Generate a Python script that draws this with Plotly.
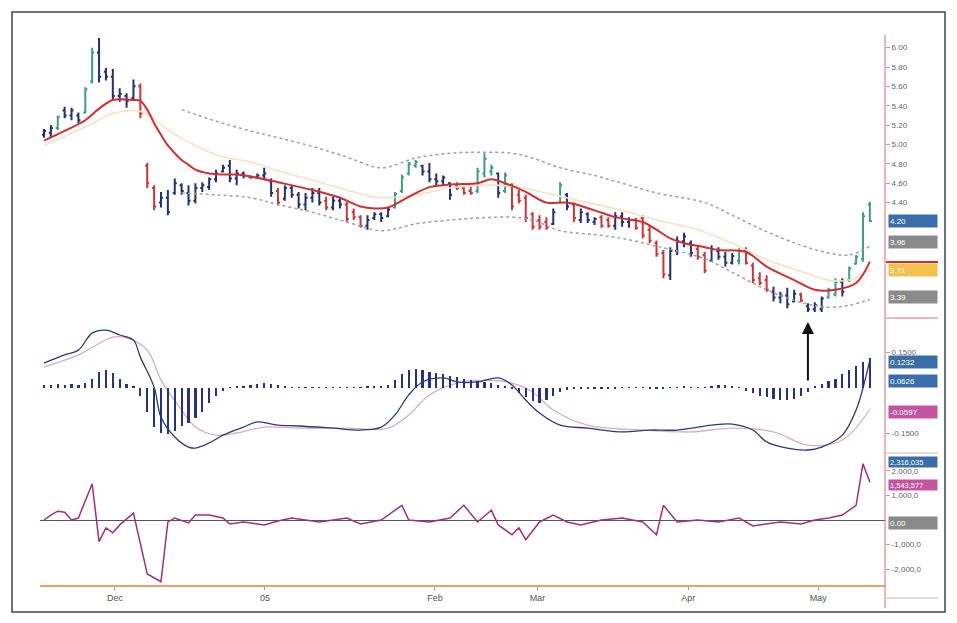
import plotly.graph_objects as go

# page body has an 8px margin, so the figure is placed at (8, 8)
OFF = 8
W, H = 957 - 2 * OFF, 623 - 2 * OFF
def px(x): return (x - OFF) / W
def py(y): return 1 - (y - OFF) / H

# ---------------- price bars (Elder impulse colouring) ----------------
high = [5.16,5.20,5.30,5.39,5.38,5.33,5.59,6.00,6.10,5.79,
        5.78,5.58,5.53,5.67,5.63,4.81,4.58,4.51,4.53,4.65,
        4.60,4.58,4.60,4.61,4.66,4.74,4.79,4.84,4.74,4.72,
        4.68,4.70,4.76,4.65,4.55,4.58,4.58,4.51,4.50,4.55,
        4.55,4.46,4.46,4.46,4.41,4.34,4.27,4.27,4.30,4.30,
        4.35,4.51,4.69,4.82,4.84,4.79,4.81,4.70,4.68,4.61,
        4.61,4.56,4.56,4.76,4.91,4.79,4.71,4.71,4.60,4.53,
        4.48,4.30,4.27,4.25,4.34,4.61,4.50,4.40,4.34,4.30,
        4.25,4.27,4.25,4.30,4.30,4.25,4.24,4.27,4.17,4.01,
        3.91,3.94,4.05,4.09,4.01,3.96,3.89,3.96,3.94,3.89,
        3.88,3.93,3.94,3.78,3.68,3.65,3.53,3.48,3.52,3.50,
        3.47,3.36,3.37,3.43,3.52,3.62,3.62,3.74,3.86,4.30,
        4.41]
low = [5.07,5.07,5.15,5.27,5.25,5.22,5.32,5.63,5.64,5.66,
       5.46,5.44,5.38,5.46,5.27,4.55,4.32,4.35,4.27,4.48,
       4.48,4.37,4.39,4.51,4.53,4.61,4.71,4.61,4.58,4.65,
       4.65,4.65,4.63,4.46,4.37,4.42,4.45,4.34,4.32,4.40,
       4.37,4.32,4.32,4.34,4.20,4.22,4.14,4.12,4.22,4.20,
       4.25,4.34,4.50,4.68,4.76,4.68,4.61,4.58,4.58,4.43,
       4.53,4.48,4.48,4.50,4.66,4.68,4.45,4.50,4.32,4.39,
       4.20,4.12,4.12,4.12,4.17,4.39,4.32,4.20,4.19,4.19,
       4.17,4.14,4.14,4.12,4.15,4.14,4.12,4.03,3.98,3.84,
       3.62,3.60,3.86,3.94,3.84,3.81,3.67,3.79,3.81,3.74,
       3.76,3.76,3.76,3.57,3.55,3.48,3.38,3.36,3.31,3.37,
       3.37,3.27,3.27,3.27,3.41,3.43,3.43,3.58,3.76,3.79,
       4.20]
opn = [5.10,5.12,5.17,5.35,5.30,5.30,5.33,5.65,5.95,5.75,
       5.70,5.50,5.50,5.48,5.60,4.78,4.55,4.40,4.45,4.50,
       4.58,4.50,4.42,4.55,4.56,4.64,4.72,4.78,4.65,4.70,
       4.67,4.66,4.68,4.62,4.52,4.44,4.55,4.48,4.38,4.45,
       4.50,4.42,4.35,4.42,4.38,4.30,4.25,4.16,4.24,4.28,
       4.26,4.35,4.52,4.70,4.78,4.78,4.72,4.64,4.62,4.60,
       4.58,4.55,4.52,4.52,4.70,4.72,4.70,4.52,4.58,4.48,
       4.45,4.28,4.22,4.20,4.18,4.40,4.48,4.38,4.22,4.28,
       4.20,4.25,4.22,4.16,4.26,4.20,4.22,4.24,4.12,3.98,
       3.88,3.65,3.90,4.00,3.98,3.92,3.86,3.80,3.90,3.84,
       3.78,3.80,3.90,3.75,3.62,3.60,3.48,3.42,3.44,3.38,
       3.45,3.33,3.30,3.30,3.42,3.45,3.58,3.60,3.77,3.82,
       4.38]
close = [5.14,5.17,5.28,5.30,5.35,5.25,5.57,5.95,5.70,5.70,
         5.50,5.52,5.45,5.60,5.32,4.60,4.36,4.45,4.30,4.60,
         4.52,4.42,4.55,4.58,4.64,4.70,4.76,4.65,4.70,4.68,
         4.66,4.68,4.70,4.50,4.40,4.55,4.48,4.38,4.45,4.50,
         4.40,4.35,4.42,4.38,4.23,4.25,4.16,4.22,4.28,4.24,
         4.33,4.49,4.66,4.80,4.82,4.72,4.64,4.62,4.66,4.48,
         4.55,4.50,4.50,4.72,4.85,4.76,4.50,4.68,4.36,4.42,
         4.24,4.15,4.15,4.14,4.30,4.58,4.36,4.24,4.30,4.22,
         4.23,4.16,4.16,4.26,4.20,4.22,4.14,4.06,4.01,3.87,
         3.66,3.90,4.00,4.05,3.88,3.84,3.70,3.92,3.84,3.78,
         3.85,3.90,3.78,3.60,3.57,3.50,3.42,3.44,3.35,3.46,
         3.39,3.30,3.34,3.41,3.50,3.58,3.48,3.72,3.84,4.26,
         4.21]
bar_colors = ("BBTBBBTTBB" "BBBBRRRBBB" "BBBBBBBBBB" "BBBBRBBBBB"
              "BRBBRRRBBB" "BTTTTBBBBB" "RRRTTTBTRR" "RRRRBTBRBB"
              "BRRBBBRRRR" "RBBBBRRBBB" "BTRRRRBBBB" "RBBBTTBTTT" "T")

# ---------------- moving averages and channel ----------------
ema_idx = [0,3,6,8,10,13,14,15,16,17,18,19,20,21,22,24,26,28,30,34,39,43,46,48,50,
           53,56,58,60,63,65,67,70,73,76,80,83,87,89,91,93,96,98,102,105,109,112,115,118,120]
ema = [5.04,5.14,5.25,5.37,5.46,5.46,5.45,5.36,5.22,5.10,4.99,4.91,4.84,4.79,4.74,
       4.70,4.69,4.69,4.67,4.61,4.53,4.45,4.36,4.34,4.35,4.46,4.56,4.58,4.59,4.60,
       4.64,4.60,4.51,4.40,4.40,4.32,4.25,4.20,4.12,4.03,3.98,3.94,3.91,3.89,3.74,
       3.60,3.50,3.50,3.57,3.79]
slow_idx = [0,6,10,13,15,18,22,26,30,34,39,44,49,54,59,64,69,74,79,84,89,95,100,105,110,114,117,120]
slow = [4.99,5.18,5.32,5.35,5.32,5.15,4.99,4.87,4.82,4.73,4.63,4.53,4.45,4.48,4.55,
        4.58,4.56,4.48,4.40,4.32,4.22,4.12,3.98,3.81,3.69,3.60,3.60,3.71]
band_idx = [20,25,30,34,39,44,49,54,59,63,68,71,75,80,84,89,96,100,105,110,114,117,120]
upper = [5.36,5.24,5.14,5.07,4.98,4.87,4.76,4.86,4.91,4.92,4.91,4.86,4.76,4.68,4.60,
         4.50,4.40,4.27,4.10,3.96,3.88,3.86,3.95]
lower = [4.50,4.48,4.45,4.38,4.30,4.20,4.11,4.18,4.22,4.24,4.25,4.22,4.11,4.07,4.03,
         3.95,3.82,3.68,3.50,3.37,3.32,3.34,3.40]

# ---------------- MACD ----------------
macd_idx = [0,3,5,7,9,11,13,14,16,17,19,21,22,24,26,29,31,34,37,42,46,49,51,53,55,58,60,
            63,66,68,70,72,75,79,84,88,92,97,100,103,105,108,111,113,116,118,120]
macd = [0.111,0.141,0.159,0.222,0.233,0.215,0.196,0.133,0.022,-0.089,-0.163,-0.200,-0.204,
        -0.185,-0.156,-0.126,-0.107,-0.119,-0.122,-0.130,-0.137,-0.126,-0.081,-0.007,0.041,
        0.056,0.041,0.041,0.056,0.030,-0.026,-0.074,-0.119,-0.130,-0.144,-0.137,-0.137,
        -0.119,-0.115,-0.137,-0.181,-0.204,-0.211,-0.200,-0.156,-0.063,0.123]
sig_idx = [0,5,10,12,15,17,20,22,25,28,32,37,44,50,53,56,60,64,68,71,74,79,87,94,100,106,111,116,120]
signal = [0.096,0.141,0.207,0.204,0.159,0.048,-0.063,-0.126,-0.156,-0.148,-0.126,-0.130,
          -0.130,-0.130,-0.081,-0.007,0.037,0.048,0.037,0.004,-0.063,-0.119,-0.137,-0.144,
          -0.130,-0.144,-0.193,-0.174,-0.060]
hist = [0.010,0.012,0.015,0.012,0.015,0.012,0.020,0.035,0.060,0.065,
        0.055,0.035,0.015,0.004,-0.030,-0.090,-0.145,-0.165,-0.170,-0.160,
        -0.140,-0.130,-0.110,-0.090,-0.055,-0.030,-0.010,0.003,0.004,0.006,
        0.012,0.015,0.018,0.015,0.010,0.004,0.003,0.002,0.002,0.003,
        0.002,0.002,0.003,0.002,0.002,0.002,0.003,0.004,0.004,0.006,
        0.010,0.030,0.050,0.065,0.070,0.065,0.060,0.055,0.050,0.045,
        0.040,0.035,0.030,0.025,0.022,0.018,0.012,0.006,-0.005,-0.020,
        -0.035,-0.050,-0.055,-0.045,-0.030,-0.015,-0.006,-0.003,-0.003,-0.002,
        -0.002,-0.003,-0.003,-0.002,0.002,0.003,0.003,0.002,-0.002,-0.003,
        -0.003,0.002,0.003,0.004,0.003,0.002,0.003,0.006,0.010,0.012,
        0.008,0.003,-0.010,-0.020,-0.030,-0.035,-0.040,-0.045,-0.045,-0.040,
        -0.030,-0.015,0.005,0.015,0.025,0.035,0.050,0.065,0.080,0.095,
        0.110]

# ---------------- Force index ----------------
force_idx = [0,1,2,3,4,5,7,8,9,10,11,13,15,17,18,19,21,22,24,26,27,29,32,34,36,40,44,46,49,
             52,53,56,59,61,63,65,66,68,69,70,72,74,76,78,81,84,87,89,90,92,95,98,101,103,
             107,110,112,114,116,118,119,120]
force = [0,200000,360000,320000,0,80000,1480000,-880000,-320000,-520000,-200000,280000,
         -2200000,-2520000,-80000,80000,-120000,200000,200000,80000,-160000,-80000,-200000,
         -40000,80000,-80000,80000,-160000,0,600000,0,-80000,80000,600000,-80000,400000,
         -200000,-600000,-320000,-800000,-80000,200000,-80000,-200000,0,80000,-80000,
         -600000,600000,-80000,0,-80000,80000,-240000,-80000,-160000,0,80000,200000,
         600000,2300000,1540000]

# ---------------- axis labels ----------------
month_pos = [10.3, 32.1, 56.8, 71.7, 93.6, 112.5]
month_lbl = ["Dec", "05", "Feb", "Mar", "Apr", "May"]
price_ticks = [4.40, 4.60, 4.80, 5.00, 5.20, 5.40, 5.60, 5.80, 6.00]
macd_ticks = [0.15, -0.15]
macd_tick_lbl = ["0.1500", "-0.1500"]
force_ticks = [2000000, 1000000, -1000000, -2000000]
force_tick_lbl = ["2,000,0", "1,000,0", "-1,000,0", "-2,000,0"]

fig = go.Figure()

bar_palette = {"B": "#26316f", "T": "#3f9c8c", "R": "#c8383a"}
n = len(high)
for code, col in bar_palette.items():
    ids = [i for i in range(n) if bar_colors[i] == code]
    fig.add_trace(go.Ohlc(
        x=ids, open=[opn[i] for i in ids], high=[high[i] for i in ids],
        low=[low[i] for i in ids], close=[close[i] for i in ids],
        increasing=dict(line=dict(color=col, width=2)),
        decreasing=dict(line=dict(color=col, width=2)),
        tickwidth=0.3, xaxis="x", yaxis="y", hoverinfo="skip"))

fig.add_trace(go.Scatter(x=band_idx, y=upper, mode="lines", xaxis="x", yaxis="y",
                         line=dict(color="#a0a0a0", width=1.5, dash="dot", shape="spline")))
fig.add_trace(go.Scatter(x=band_idx, y=lower, mode="lines", xaxis="x", yaxis="y",
                         line=dict(color="#a0a0a0", width=1.5, dash="dot", shape="spline")))
fig.add_trace(go.Scatter(x=slow_idx, y=slow, mode="lines", xaxis="x", yaxis="y",
                         line=dict(color="#f7e2c6", width=1.6, shape="spline")))
fig.add_trace(go.Scatter(x=ema_idx, y=ema, mode="lines", xaxis="x", yaxis="y",
                         line=dict(color="#d42e2e", width=2, shape="spline")))

fig.add_trace(go.Bar(x=list(range(n)), y=hist, xaxis="x", yaxis="y4",
                     marker=dict(color="#27347a", line=dict(width=0)), width=0.32))
fig.add_trace(go.Scatter(x=sig_idx, y=signal, mode="lines", xaxis="x", yaxis="y2",
                         line=dict(color="#dcaac4", width=1.3, shape="spline")))
fig.add_trace(go.Scatter(x=macd_idx, y=macd, mode="lines", xaxis="x", yaxis="y2",
                         line=dict(color="#2b3a78", width=1.3, shape="spline")))

fig.add_trace(go.Scatter(x=force_idx, y=force, mode="lines", xaxis="x", yaxis="y3",
                         line=dict(color="#a0307a", width=1.5)))

tickfont = dict(family="Liberation Sans, Arial, sans-serif", size=8, color="#666")
common_y = dict(side="right", anchor="x", showgrid=False, zeroline=False,
                ticks="outside", ticklen=4, tickcolor="#aaa", tickfont=tickfont,
                showline=False)

fig.update_layout(
    width=W, height=H, margin=dict(l=0, r=0, t=0, b=0),
    paper_bgcolor="white", plot_bgcolor="white", showlegend=False,
    bargap=0,
    xaxis=dict(domain=[px(40), px(885)], range=[-0.58, 122.2], anchor="y3",
               tickvals=month_pos, ticktext=month_lbl, showgrid=False, zeroline=False,
               showline=True, linecolor="#eaa070", linewidth=2, ticks="outside",
               ticklen=3, tickcolor="#999",
               tickfont=dict(family="Liberation Sans, Arial, sans-serif", size=9, color="#555"),
               rangeslider=dict(visible=False)),
    yaxis=dict(domain=[py(320), py(30)], range=[3.188, 6.182],
               tickvals=price_ticks, ticktext=[f"{v:.2f}" for v in price_ticks], **common_y),
    yaxis2=dict(domain=[py(460), py(325)], range=[-0.248, 0.252],
                tickvals=macd_ticks, ticktext=macd_tick_lbl, **common_y),
    yaxis4=dict(overlaying="y2", range=[-0.2667, 0.2333], visible=False),
    yaxis3=dict(domain=[py(585), py(462)], range=[-2653000, 2367000],
                tickvals=force_ticks, ticktext=force_tick_lbl,
                side="right", anchor="x", showgrid=False, zeroline=True,
                zerolinecolor="#555", zerolinewidth=1, ticks="outside", ticklen=4,
                tickcolor="#aaa", tickfont=tickfont),
)

def box(ypix, text, bg, size=8, h=10):
    return dict(xref="paper", yref="paper", x=px(888), y=py(ypix), xanchor="left",
                yanchor="middle", text=text, showarrow=False, bgcolor=bg,
                font=dict(family="Liberation Sans, Arial, sans-serif", size=size, color="white"),
                width=46, height=h, align="left", borderpad=1)

annotations = [
    box(221, "4.20", "#3b6ea8"),
    box(242, "3.96", "#8a8a8a"),
    box(270, "3.71", "#f2c14e"),
    box(297, "3.39", "#8a8a8a"),
    box(362, "0.1232", "#3b6ea8"),
    box(381, "0.0626", "#3b6ea8"),
    box(412, "-0.0597", "#c454a0"),
    box(462, "2,316,035", "#3b6ea8", 7.5, 8),
    box(485, "1,543,577", "#c454a0", 7.5, 8),
    box(523, "0.00", "#8a8a8a"),
    dict(x=111, y=py(322), xref="x", yref="paper", ax=0, ay=60, text="",
         showarrow=True, arrowhead=2, arrowsize=1.2, arrowwidth=2, arrowcolor="#111"),
]
fig.update_layout(annotations=annotations)

shapes = [
    dict(type="rect", xref="paper", yref="paper", x0=px(12), x1=px(945), y0=py(612), y1=py(12),
         line=dict(color="#444", width=1.5)),
    dict(type="line", xref="paper", yref="paper", x0=px(885), x1=px(885), y0=py(608), y1=py(35),
         line=dict(color="#e06a6a", width=1)),
    dict(type="line", xref="paper", yref="paper", x0=px(886), x1=px(938), y0=py(262), y1=py(262),
         line=dict(color="#d42e2e", width=2)),
    dict(type="line", xref="paper", yref="paper", x0=px(886), x1=px(938), y0=py(318), y1=py(318),
         line=dict(color="#e07070", width=1)),
    dict(type="line", xref="paper", yref="paper", x0=px(886), x1=px(938), y0=py(453), y1=py(453),
         line=dict(color="#bbb", width=1)),
    dict(type="line", xref="paper", yref="paper", x0=px(886), x1=px(938), y0=py(598), y1=py(598),
         line=dict(color="#bbb", width=1)),
]
fig.update_layout(shapes=shapes)

fig.write_html("out.html")
